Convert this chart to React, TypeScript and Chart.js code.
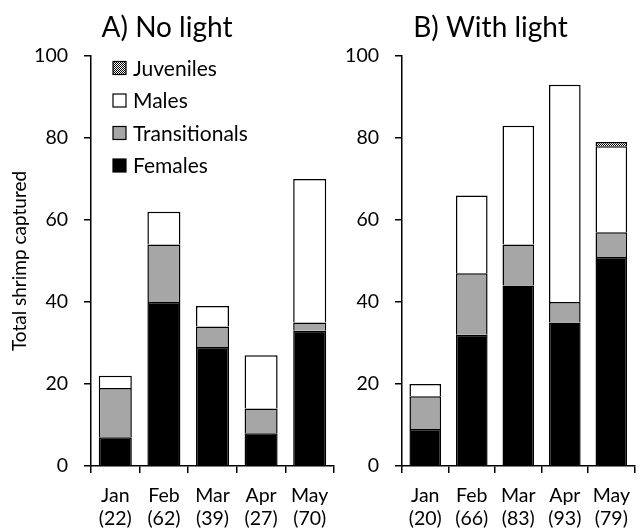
import React, { useEffect, useRef } from "react";
import { Chart, registerables } from "chart.js";

Chart.register(...registerables);

const months = ["Jan", "Feb", "Mar", "Apr", "May"];
const seriesLabels = ["Females", "Transitionals", "Males", "Juveniles"];

const noLightFemales = [7, 40, 29, 8, 33];
const noLightTransitionals = [12, 14, 5, 6, 2];
const noLightMales = [3, 8, 5, 13, 35];
const noLightJuveniles = [0, 0, 0, 0, 0];

const lightFemales = [9, 32, 44, 35, 51];
const lightTransitionals = [8, 15, 10, 5, 6];
const lightMales = [3, 19, 29, 53, 21];
const lightJuveniles = [0, 0, 0, 0, 1];

const yTicks = [0, 20, 40, 60, 80, 100];

const FONT = "Lato";

function makeJuvenilePattern(): CanvasPattern | string {
  const c = document.createElement("canvas");
  c.width = 2;
  c.height = 2;
  const g = c.getContext("2d");
  if (!g) return "#777";
  g.fillStyle = "#ffffff";
  g.fillRect(0, 0, 2, 2);
  g.fillStyle = "#000000";
  g.fillRect(0, 0, 1, 1);
  g.fillRect(1, 1, 1, 1);
  const p = g.createPattern(c, "repeat");
  return p || "#777";
}

const legendPlugin = {
  id: "innerLegend",
  afterDraw(chart: any, _args: any, opts: any) {
    if (!opts || !opts.show) return;
    const ctx = chart.ctx;
    const datasets = chart.data.datasets.slice().reverse();
    const x0 = chart.chartArea.left + 22;
    const y0 = chart.chartArea.top + 12;
    const step = 32.5;
    ctx.save();
    ctx.font = `21px ${FONT}`;
    ctx.textBaseline = "middle";
    ctx.textAlign = "left";
    datasets.forEach((ds: any, i: number) => {
      const cy = y0 + i * step;
      ctx.fillStyle = ds.backgroundColor;
      ctx.fillRect(x0, cy - 6.5, 13, 13);
      ctx.lineWidth = 1.2;
      ctx.strokeStyle = "#000";
      ctx.strokeRect(x0, cy - 6.5, 13, 13);
      ctx.fillStyle = "#000";
      ctx.fillText(ds.label, x0 + 20, cy + 1);
    });
    ctx.restore();
  },
};

function buildConfig(
  title: string,
  series: number[][],
  showYTitle: boolean,
  showLegend: boolean,
  yWidth: number,
  padRight: number
): any {
  const colors: any[] = ["#000000", "#a6a6a6", "#ffffff", makeJuvenilePattern()];
  const totals = months.map((_, i) => series.reduce((s, arr) => s + arr[i], 0));
  const labels = months.map((m, i) => [m, `(${totals[i]})`]);
  return {
    type: "bar",
    data: {
      labels,
      datasets: series.map((arr, k) => ({
        label: seriesLabels[k],
        data: arr.map((v) => (v === 0 ? null : v)),
        backgroundColor: colors[k],
        borderColor: "#000000",
        borderWidth: 1.5,
        categoryPercentage: 1,
        barPercentage: 0.68,
      })),
    },
    plugins: [legendPlugin],
    options: {
      responsive: false,
      animation: false,
      layout: { padding: { top: 0, right: padRight, bottom: 0, left: 0 } },
      plugins: {
        legend: { display: false },
        tooltip: { enabled: false },
        innerLegend: { show: showLegend },
        title: {
          display: true,
          text: title,
          color: "#000",
          font: { family: FONT, size: 28, weight: "normal", lineHeight: 1.2 },
          padding: { top: 11, bottom: 11.4 },
        },
      },
      scales: {
        x: {
          stacked: true,
          offset: true,
          border: { display: true, color: "#000", width: 1.5 },
          grid: {
            display: true,
            offset: true,
            drawOnChartArea: false,
            drawTicks: true,
            tickLength: 7,
            color: "#000",
            lineWidth: 1.5,
          },
          ticks: {
            color: "#000",
            font: { family: FONT, size: 19.5, lineHeight: 1.2 },
            padding: 11,
            maxRotation: 0,
            autoSkip: false,
          },
          afterFit(scale: any) {
            scale.height = 63;
          },
        },
        y: {
          stacked: true,
          min: 0,
          max: 100,
          afterBuildTicks(scale: any) {
            scale.ticks = yTicks.map((v) => ({ value: v }));
          },
          border: { display: true, color: "#000", width: 1.5 },
          grid: {
            display: true,
            drawOnChartArea: false,
            drawTicks: true,
            tickLength: 7,
            color: "#000",
            lineWidth: 1.5,
          },
          ticks: {
            color: "#000",
            font: { family: FONT, size: 19.5 },
            padding: 16,
          },
          title: {
            display: showYTitle,
            text: "Total shrimp captured",
            color: "#000",
            font: { family: FONT, size: 19, lineHeight: 1.2 },
            padding: { top: 8.5, bottom: 0 },
          },
          afterFit(scale: any) {
            scale.width = yWidth;
          },
        },
      },
    },
  };
}

function Panel(props: {
  width: number;
  config: () => any;
}) {
  const ref = useRef<HTMLCanvasElement | null>(null);
  useEffect(() => {
    if (!ref.current) return;
    const chart = new Chart(ref.current, props.config());
    return () => chart.destroy();
  }, []);
  return (
    <canvas
      ref={ref}
      width={props.width}
      height={529}
      style={{ display: "block", width: props.width, height: 529 }}
    />
  );
}

export default function App() {
  return (
    <div
      style={{
        position: "absolute",
        left: 0,
        top: 0,
        width: 641,
        height: 529,
        display: "flex",
        background: "#fff",
        overflow: "hidden",
      }}
    >
      <Panel
        width={340}
        config={() =>
          buildConfig(
            "A) No light",
            [noLightFemales, noLightTransitionals, noLightMales, noLightJuveniles],
            true,
            true,
            91,
            6
          )
        }
      />
      <Panel
        width={301}
        config={() =>
          buildConfig(
            "B) With light",
            [lightFemales, lightTransitionals, lightMales, lightJuveniles],
            false,
            false,
            62,
            0
          )
        }
      />
    </div>
  );
}
